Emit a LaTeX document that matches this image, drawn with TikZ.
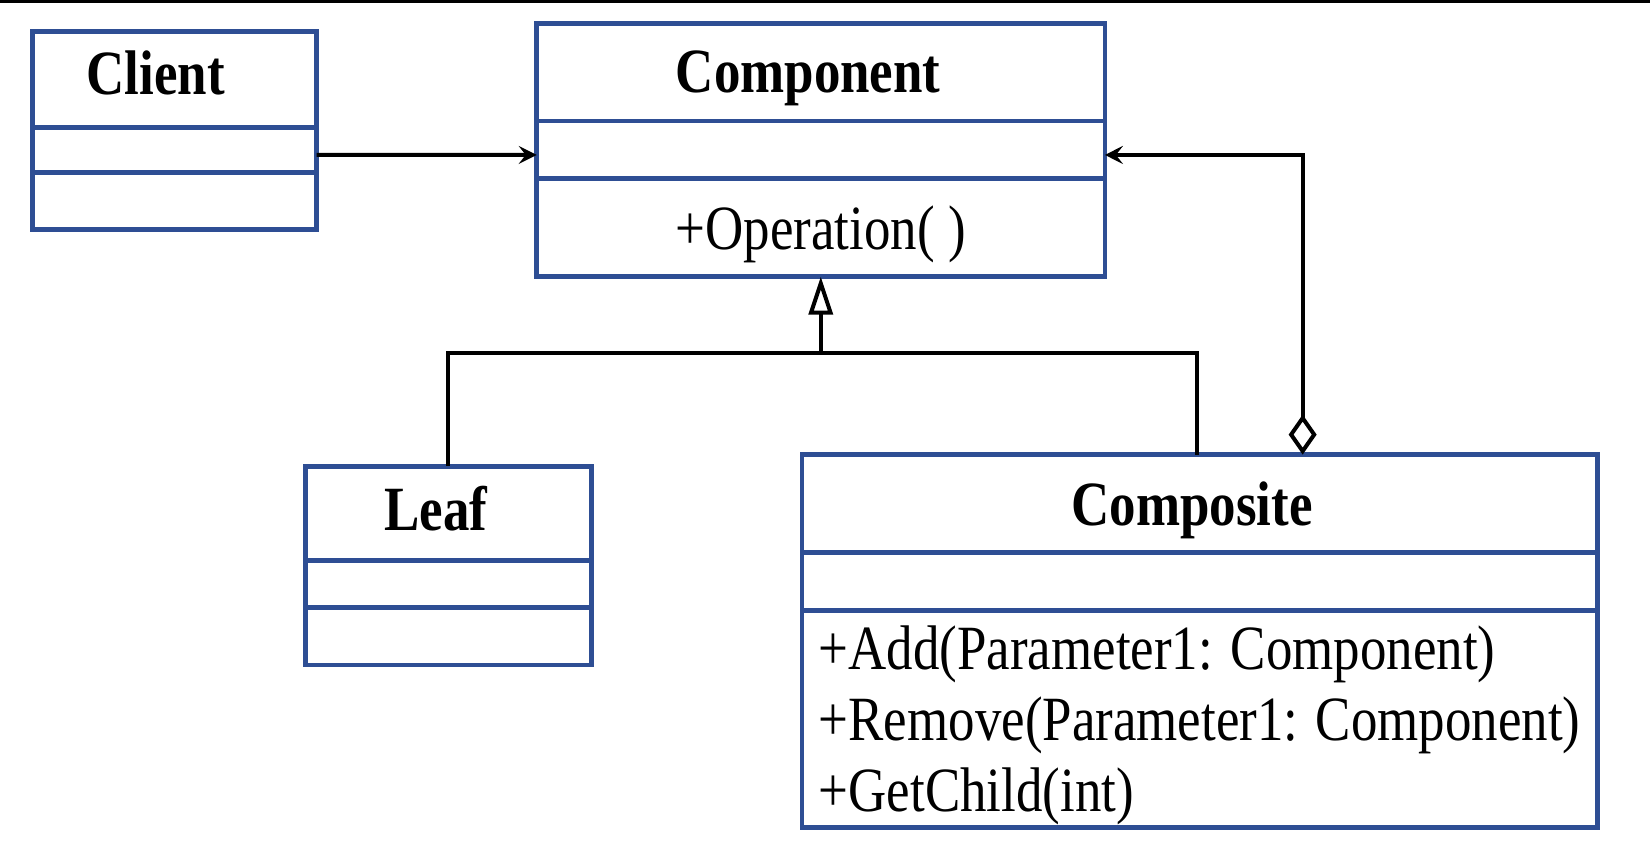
\documentclass[tikz,border=0pt]{standalone}
\usepackage{fontspec}
\setmainfont{Liberation Serif}[FakeStretch=0.84]
\usepackage{tikz}
\usetikzlibrary{positioning,arrows.meta,calc}
\definecolor{umlblue}{RGB}{46,78,148}

\begin{document}
\begin{tikzpicture}[x=0.5pt, y=-0.5pt,
    partbox/.style={rectangle, draw=umlblue, line width=2.4pt, inner sep=0pt, outer sep=0pt, text depth=0pt, font=\fontsize{31.5}{35.5}\selectfont},
    namebox/.style={partbox, font=\fontsize{31.5}{35.5}\selectfont\bfseries},
    link/.style={draw=black, line width=2pt},
    assoc/.style={link, -{Stealth[length=9pt, width=9pt, inset=3.5pt]}},
    aggr/.style={link, {Diamond[open, length=20pt, width=14pt]}-{Stealth[length=9pt, width=9pt, inset=3.5pt]}},
    inherit/.style={link, -{Triangle[open, length=19pt, width=12pt]}}
  ]
    \useasboundingbox (0,0) rectangle (1650,860);
    \draw[line width=1.5pt] (0,1.5) -- (1650,1.5);

    % Client
    \node[namebox, anchor=north west, minimum width=142pt, minimum height=47.8pt, text depth=6.4pt] (client) at (32.6,31.6) {Client\hspace*{19pt}};
    \node[partbox, below=0pt of client, minimum width=142pt, minimum height=22.6pt] (clientattr) {};
    \node[partbox, below=0pt of clientattr, minimum width=142pt, minimum height=28.4pt] (clientops) {};

    % Component
    \node[namebox, anchor=north west, minimum width=284.1pt, minimum height=48.9pt] (component) at (536.7,23.2) {Component\hspace*{12.6pt}};
    \node[partbox, below=0pt of component, minimum width=284.1pt, minimum height=28.95pt] (componentattr) {};
    \node[partbox, below=0pt of componentattr, minimum width=284.1pt, minimum height=48.9pt] (componentops) {+Operation( )};

    % Leaf
    \node[namebox, anchor=north west, minimum width=143.1pt, minimum height=47.35pt, text depth=5.3pt] (leaf) at (305.2,466.2) {Leaf\hspace*{12.6pt}};
    \node[partbox, below=0pt of leaf, minimum width=143.1pt, minimum height=23.15pt] (leafattr) {};
    \node[partbox, below=0pt of leafattr, minimum width=143.1pt, minimum height=28.9pt] (leafops) {};

    % Composite
    \node[namebox, anchor=north west, minimum width=397.75pt, minimum height=48.95pt] (composite) at (801.9,454.6) {Composite\hspace*{7.4pt}};
    \node[partbox, below=0pt of composite, minimum width=397.75pt, minimum height=28.9pt] (compositeattr) {};
    \node[partbox, below=0pt of compositeattr, minimum width=397.75pt, minimum height=108.4pt, align=left] (compositeops)
      {+Add(Parameter1: Component)\\+Remove(Parameter1: Component)\\+GetChild(int)};

    % connectors
    \draw[assoc] ([yshift=-2.5pt]clientattr.east) -- ([yshift=-2.5pt]componentattr.west);
    \draw[aggr] ($(composite.north)+(103,0)$) |- ([yshift=-2.5pt]componentattr.east);
    \coordinate (hub) at ($(componentops.south)+(0,76)$);
    \draw[link] (leaf.north) |- (hub) -| ($(composite.north)+(-3,0)$);
    \draw[inherit] (hub) -- (componentops.south);
  \end{tikzpicture}
\end{document}
